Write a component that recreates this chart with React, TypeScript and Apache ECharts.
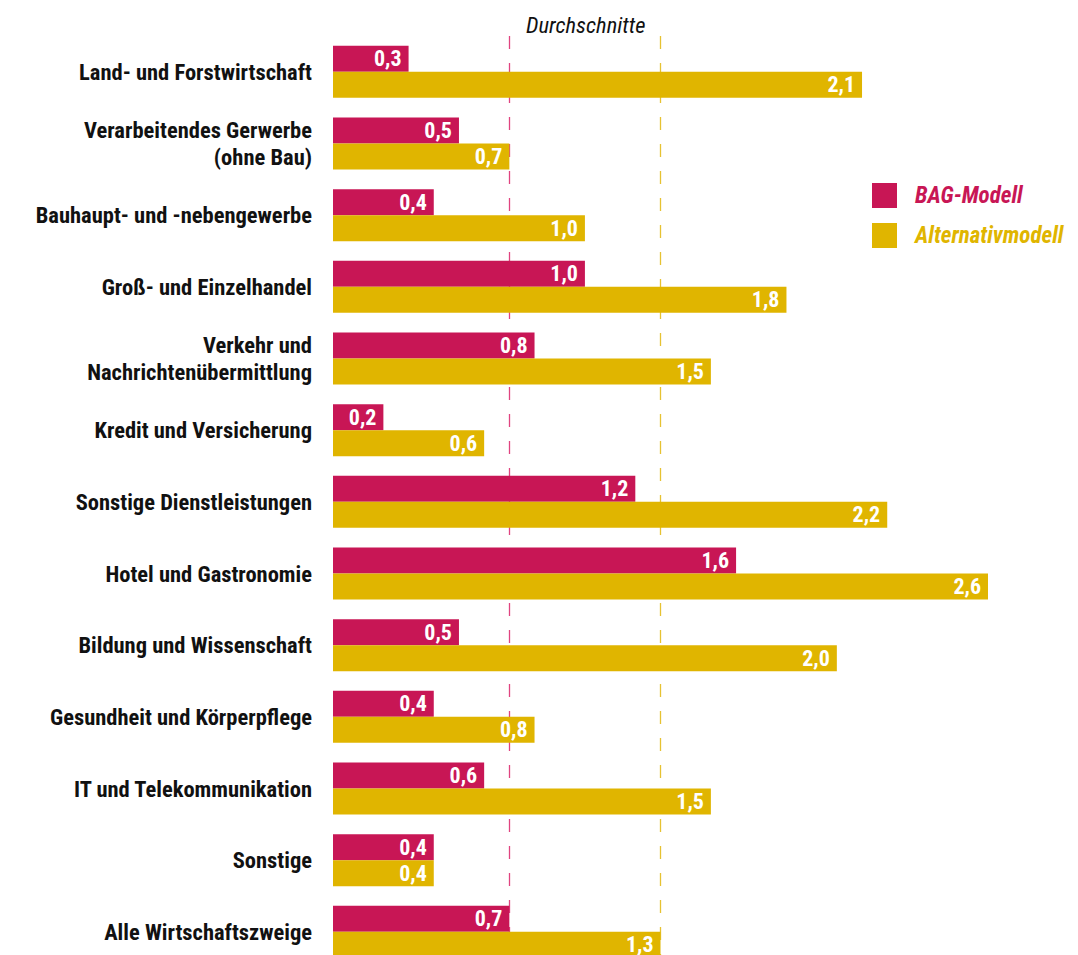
import React, { useEffect, useRef } from "react";
import * as echarts from "echarts";

const categories = [
  "Land- und Forstwirtschaft",
  "Verarbeitendes Gerwerbe\n(ohne Bau)",
  "Bauhaupt- und -nebengewerbe",
  "Groß- und Einzelhandel",
  "Verkehr und\nNachrichtenübermittlung",
  "Kredit und Versicherung",
  "Sonstige Dienstleistungen",
  "Hotel und Gastronomie",
  "Bildung und Wissenschaft",
  "Gesundheit und Körperpflege",
  "IT und Telekommunikation",
  "Sonstige",
  "Alle Wirtschaftszweige",
];
const bagValues = [0.3, 0.5, 0.4, 1.0, 0.8, 0.2, 1.2, 1.6, 0.5, 0.4, 0.6, 0.4, 0.7];
const altValues = [2.1, 0.7, 1.0, 1.8, 1.5, 0.6, 2.2, 2.6, 2.0, 0.8, 1.5, 0.4, 1.3];
const seriesNames = ["BAG-Modell", "Alternativmodell"];
const averages = [0.7, 1.3];
const averageTitle = "Durchschnitte";

const RED = "#C81655";
const GOLD = "#E0B500";
const RED_LINE = "#E04480";
const GOLD_LINE = "#E6C232";
const FONT = "'Roboto Condensed', 'Liberation Sans Narrow', 'DejaVu Sans Condensed', Roboto, sans-serif";

const fmt = (p: any) => Number(p.value).toFixed(1).replace(".", ",");

export default function App() {
  const ref = useRef<HTMLDivElement>(null);
  useEffect(() => {
    document.body.style.margin = "0";
    const chart = echarts.init(ref.current!, null, { renderer: "svg" });
    const mkLine = (v: number, color: string) => ({
      silent: true,
      symbol: "none",
      z: 0,
      label: { show: false },
      lineStyle: { color, type: [13, 14], width: 1.3, opacity: 1 },
      data: [{ xAxis: v }],
    });
    const valueLabel = {
      show: true,
      position: "insideRight",
      distance: 7,
      color: "#fff",
      fontFamily: FONT,
      fontWeight: "bold",
      fontSize: 22,
      formatter: fmt,
    };
    chart.setOption({
      animation: false,
      textStyle: { fontFamily: FONT },
      grid: {
        left: 333,
        right: 90,
        top: 36,
        height: 931.7,
        containLabel: false,
        outerBoundsMode: "none",
      },
      xAxis: {
        type: "value",
        min: 0,
        max: 2.6,
        show: false,
        splitLine: { show: false },
      },
      yAxis: {
        type: "category",
        inverse: true,
        data: categories,
        axisLine: { show: false },
        axisTick: { show: false },
        axisLabel: {
          margin: 21,
          fontFamily: FONT,
          fontWeight: "bold",
          fontSize: 22.5,
          lineHeight: 27,
          color: "#111",
          align: "right",
        },
      },
      legend: {
        orient: "vertical",
        left: 872,
        top: 183,
        padding: 0,
        itemWidth: 25,
        itemHeight: 25,
        itemGap: 15,
        icon: "rect",
        selectedMode: false,
        textStyle: {
          fontFamily: FONT,
          fontStyle: "italic",
          fontWeight: "bold",
          fontSize: 23,
          padding: [0, 0, 0, 13],
        },
        data: [
          { name: seriesNames[0], textStyle: { color: RED } },
          { name: seriesNames[1], textStyle: { color: GOLD } },
        ],
      },
      graphic: [
        {
          type: "text",
          left: 526,
          top: 13,
          style: {
            text: averageTitle,
            fontFamily: FONT,
            fontStyle: "italic",
            fontSize: 22.5,
            fill: "#111",
          },
        },
      ],
      series: [
        {
          name: seriesNames[0],
          type: "bar",
          data: bagValues,
          barWidth: 26,
          barGap: "0%",
          itemStyle: { color: RED },
          z: 2,
          label: valueLabel,
          markLine: mkLine(averages[0], RED_LINE),
        },
        {
          name: seriesNames[1],
          type: "bar",
          data: altValues,
          barWidth: 26,
          barGap: "0%",
          itemStyle: { color: GOLD },
          z: 2,
          label: valueLabel,
          markLine: mkLine(averages[1], GOLD_LINE),
        },
      ],
    });
    return () => chart.dispose();
  }, []);
  return <div ref={ref} style={{ width: 1078, height: 955, overflow: "hidden" }} />;
}
